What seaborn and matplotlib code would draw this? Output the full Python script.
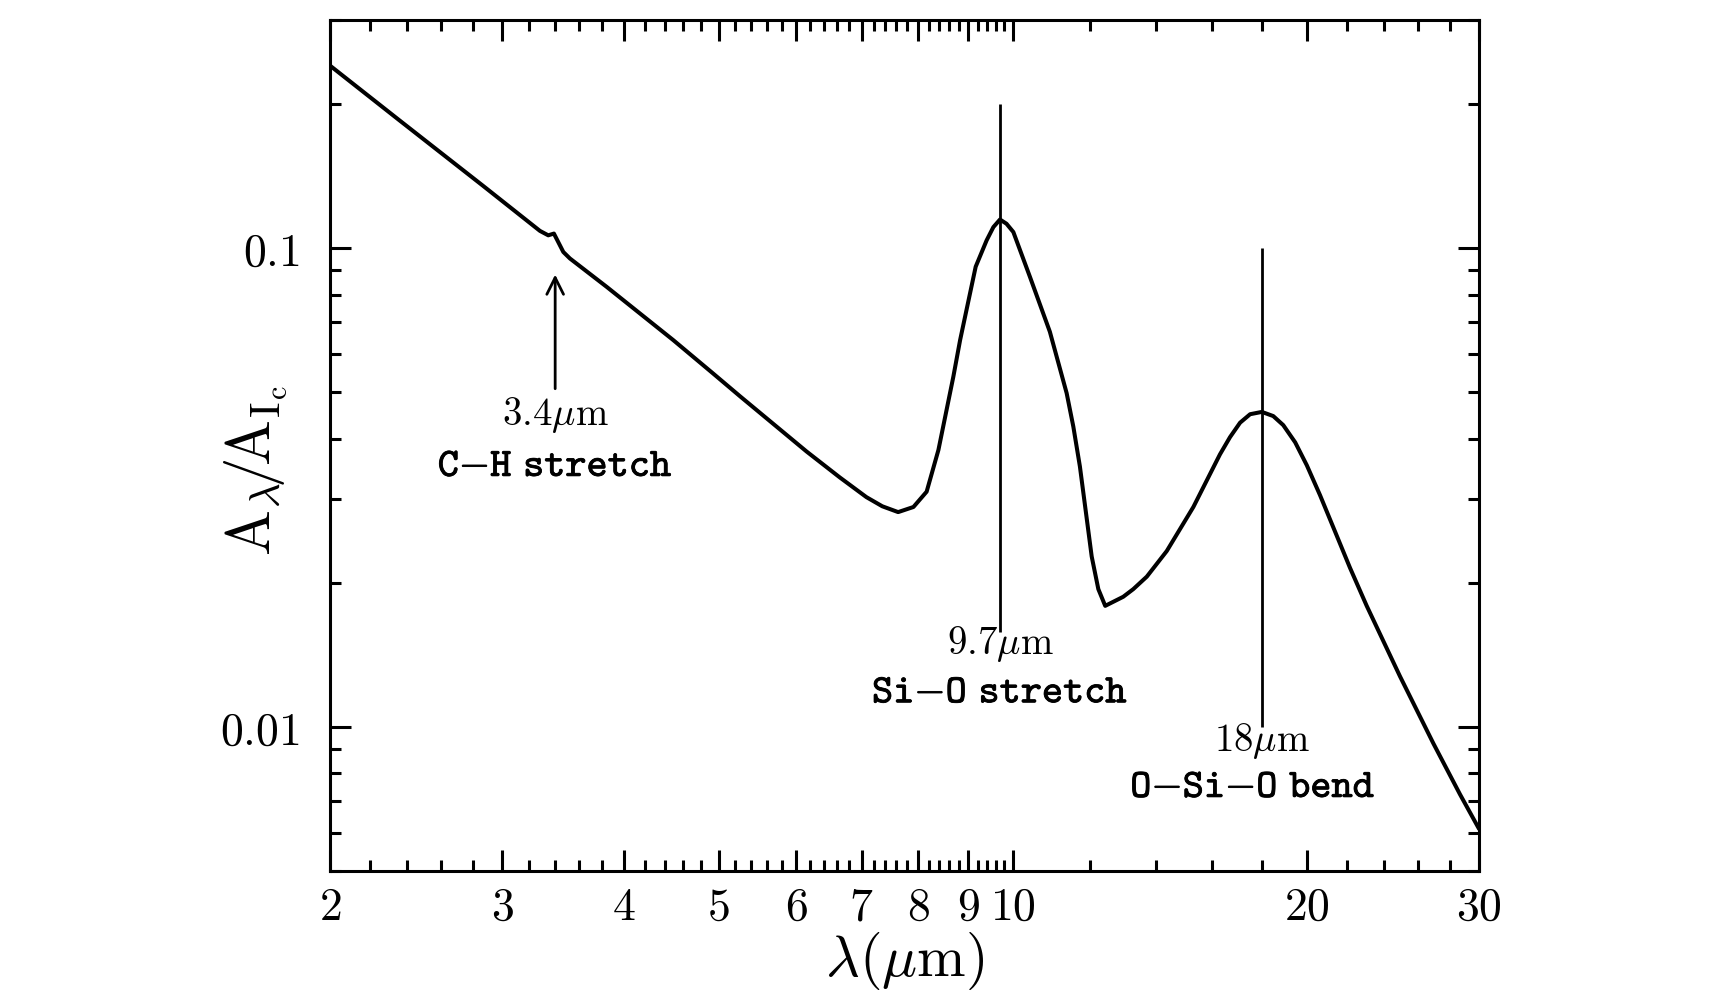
import numpy as np
import matplotlib
matplotlib.use("Agg")
import matplotlib.pyplot as plt
import matplotlib.patheffects as pe
from matplotlib.ticker import NullFormatter, LogLocator
import seaborn as sns

# extinction curve (wavelength in micron, A_lambda / A_Ic)
wavelength = [2.00, 2.35, 2.87, 3.28, 3.345, 3.39, 3.466, 3.52, 3.84, 4.49,
              4.93, 5.26, 6.15, 6.65, 7.08, 7.35, 7.63, 7.91, 8.16, 8.39,
              8.69, 8.83, 9.16, 9.40, 9.55, 9.70, 9.85, 10.01, 10.41, 10.91,
              11.35, 11.53, 11.71, 12.04, 12.23, 12.43, 12.97, 13.28, 13.71, 14.37,
              15.30, 16.29, 16.68, 17.08, 17.49, 17.98, 18.47, 18.91, 19.45, 19.99,
              20.62, 21.28, 22.13, 23.02, 24.90, 26.94, 28.68, 30.00]
extinction = [0.2407, 0.1857, 0.1349, 0.1087, 0.1064, 0.1073, 0.0982, 0.0952, 0.0830, 0.0643,
              0.0548, 0.0490, 0.0376, 0.0332, 0.0302, 0.0289, 0.0281, 0.0288, 0.0310, 0.0379,
              0.0539, 0.0643, 0.0915, 0.1039, 0.1107, 0.1148, 0.1125, 0.1081, 0.0871, 0.0669,
              0.0498, 0.0424, 0.0350, 0.0227, 0.0194, 0.0179, 0.0187, 0.0194, 0.0206, 0.0233,
              0.0288, 0.0371, 0.0403, 0.0432, 0.0450, 0.0455, 0.0446, 0.0427, 0.0393, 0.0352,
              0.0305, 0.0261, 0.0215, 0.0179, 0.01275, 0.00923, 0.00723, 0.00612]

# feature markers: (wavelength, line bottom, line top)
feature_lines = [(9.7, 0.0158, 0.20), (18.0, 0.0100, 0.100)]
arrow_ch = (3.4, 0.0502, 0.0893)

# labels: (x, y, text)
feature_labels = [
    (3.4, 0.0428, r"$3.4\mu{\rm m}$"),
    (3.4, 0.0334, r"$\mathtt{C}{-}\mathtt{H\ stretch}$"),
    (9.7, 0.01417, r"$9.7\mu{\rm m}$"),
    (9.7, 0.01124, r"$\mathtt{Si}{-}\mathtt{O\ stretch}$"),
    (18.0, 0.00891, r"$18\mu{\rm m}$"),
    (17.6, 0.00713, r"$\mathtt{O}{-}\mathtt{Si}{-}\mathtt{O\ bend}$"),
]

x_ticks = [2, 3, 4, 5, 6, 7, 8, 9, 10, 20, 30]
x_ticklabels = ["$2$", "$3$", "$4$", "$5$", "$6$", "$7$", "$8$", "$9$", "$10$", "$20$", "$30$"]
y_ticks = [0.01, 0.1]
y_ticklabels = ["$0.01$", "$0.1$"]

sns.set_theme(style="ticks")
plt.rcParams["font.family"] = ["DejaVu Serif", "DejaVu Sans"]
plt.rcParams["mathtext.fontset"] = "cm"

fig, ax = plt.subplots(figsize=(17.36, 9.92), dpi=100)
fig.subplots_adjust(left=0.1901, right=0.852, bottom=0.122, top=0.98)
ax.set_xscale("log")
ax.set_yscale("log")

sns.lineplot(x=wavelength, y=extinction, color="black", linewidth=2.9, ax=ax,
             sort=False, estimator=None)

for xv, lo, hi in feature_lines:
    ax.vlines(xv, lo, hi, color="black", linewidth=2.0)

ax.annotate("", xy=(arrow_ch[0], arrow_ch[2]), xytext=(arrow_ch[0], arrow_ch[1]),
            arrowprops=dict(arrowstyle="->", color="black", lw=2.0,
                            mutation_scale=30))

for xv, yv, txt in feature_labels:
    if "mu" in txt:
        ax.text(xv, yv, txt, ha="center", va="baseline", fontsize=28, color="black")
    else:
        # typewriter labels are drawn a bit heavier in the original
        ax.text(xv, yv, txt, ha="center", va="baseline", fontsize=29, color="black",
                path_effects=[pe.withStroke(linewidth=0.6, foreground="black")])

ax.set_xlim(2, 30)
ax.set_ylim(0.005, 0.3)

minor_x = [v for v in np.round(np.arange(2.2, 10.0, 0.2), 1) if abs(v - round(v)) > 1e-6]
minor_x += [12, 14, 16, 18, 22, 24, 26, 28]
ax.set_xticks(x_ticks)
ax.set_xticklabels(x_ticklabels)
ax.set_xticks(minor_x, minor=True)
ax.xaxis.set_minor_formatter(NullFormatter())

ax.set_yticks(y_ticks)
ax.set_yticklabels(y_ticklabels)
ax.yaxis.set_minor_locator(LogLocator(base=10, subs=np.arange(2, 10)))
ax.yaxis.set_minor_formatter(NullFormatter())

ax.tick_params(which="both", direction="in", top=True, right=True,
               color="black", width=2.2, labelcolor="black")
ax.tick_params(which="major", length=15, labelsize=33)
ax.tick_params(which="minor", length=8)
ax.tick_params(axis="x", which="major", pad=10)
ax.tick_params(axis="y", which="major", pad=22)

for sp in ax.spines.values():
    sp.set_linewidth(2.2)
    sp.set_color("black")

ax.set_xlabel(r"$\lambda(\mu{\rm m})$", fontsize=42, color="black")
ax.xaxis.set_label_coords(0.5, -0.069)
ax.xaxis.label.set_va("top")
ax.set_ylabel(r"${\rm A}_\lambda\!/\!{\rm A}_{\rm I_c}$", fontsize=44, color="black")
ax.yaxis.set_label_coords(-0.035, 0.47)

plt.savefig("out.png", dpi=100)
